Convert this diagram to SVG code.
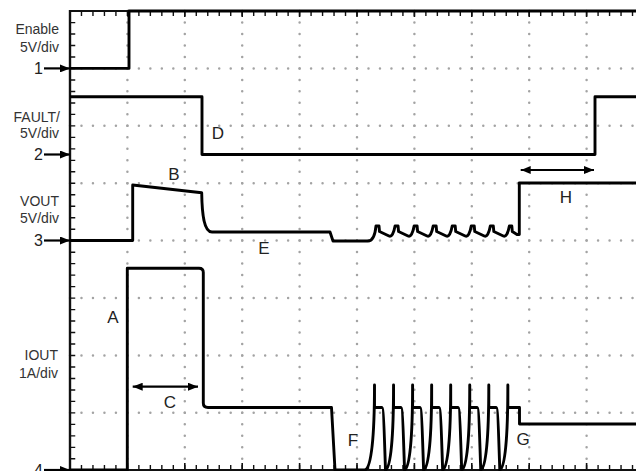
<svg xmlns="http://www.w3.org/2000/svg" width="636" height="471" viewBox="0 0 636 471">
<defs>
<style>
.dv{stroke:#a3a3a3;stroke-width:2.5;stroke-linecap:round;stroke-dasharray:0 11.48;fill:none}
.tk{stroke:#111;fill:none}
.tr{stroke:#000;stroke-width:2.9;fill:none;stroke-linejoin:round}
.lb{font-family:"Liberation Sans",Arial,sans-serif;font-size:14px;fill:#333;text-anchor:end}
.num{font-family:"Liberation Sans",Arial,sans-serif;font-size:16px;fill:#222;text-anchor:end}
.let{font-family:"Liberation Sans",Arial,sans-serif;font-size:17px;fill:#222;text-anchor:middle}
.ar{stroke:#000;stroke-width:2.2;fill:none}
</style>
<marker id="ah" viewBox="0 0 10 8" refX="10" refY="4" markerWidth="10" markerHeight="8" markerUnits="userSpaceOnUse" orient="auto-start-reverse">
<path d="M0,0 L10,4 L0,8 z" fill="#000"/>
</marker>
<clipPath id="topclip"><rect x="0" y="11" width="636" height="6"/></clipPath>
<clipPath id="botclip"><rect x="0" y="463" width="636" height="8"/></clipPath>
</defs>
<rect width="636" height="471" fill="#fff"/>
<g id="grid">
<line class="dv" x1="127.4" y1="11" x2="127.4" y2="470"/>
<line class="dv" x1="184.8" y1="11" x2="184.8" y2="470"/>
<line class="dv" x1="242.2" y1="11" x2="242.2" y2="470"/>
<line class="dv" x1="299.6" y1="11" x2="299.6" y2="470"/>
<line class="dv" x1="357" y1="11" x2="357" y2="470"/>
<line class="dv" x1="414.4" y1="11" x2="414.4" y2="470"/>
<line class="dv" x1="471.8" y1="11" x2="471.8" y2="470"/>
<line class="dv" x1="529.2" y1="11" x2="529.2" y2="470"/>
<line class="dv" x1="586.6" y1="11" x2="586.6" y2="470"/>
<line class="dv" x1="70" y1="68.4" x2="640" y2="68.4"/>
<line class="dv" x1="70" y1="125.8" x2="640" y2="125.8"/>
<line class="dv" x1="70" y1="183.2" x2="640" y2="183.2"/>
<line class="dv" x1="70" y1="240.6" x2="640" y2="240.6"/>
<line class="dv" x1="70" y1="298" x2="640" y2="298"/>
<line class="dv" x1="70" y1="355.4" x2="640" y2="355.4"/>
<line class="dv" x1="70" y1="412.8" x2="640" y2="412.8"/>
</g>
<g id="axes">
<line class="tk" x1="70" y1="10" x2="70" y2="471" stroke-width="2.4"/>
<line class="tk" x1="69" y1="11" x2="636" y2="11" stroke-width="2"/>
<line class="tk" x1="69" y1="470" x2="636" y2="470" stroke-width="2"/>
<line class="tk" x1="72.5" y1="10.4" x2="72.5" y2="470" stroke-width="5.5" stroke-dasharray="1.4 10.08"/>
<line class="tk" x1="70" y1="13.5" x2="636" y2="13.5" stroke-width="5" stroke-dasharray="1.4 10.08" stroke-dashoffset="0.7"/>
<line class="tk" x1="127.4" y1="11" x2="636" y2="11" stroke-width="12" stroke-dasharray="1.6 55.8" stroke-dashoffset="0.8" clip-path="url(#topclip)"/>
<line class="tk" x1="70" y1="467.5" x2="636" y2="467.5" stroke-width="5" stroke-dasharray="1.4 10.08" stroke-dashoffset="0.7"/>
<line class="tk" x1="127.4" y1="470" x2="636" y2="470" stroke-width="14" stroke-dasharray="1.6 55.8" stroke-dashoffset="0.8" clip-path="url(#botclip)"/>
</g>
<g id="ch1-enable">
<path class="tr" d="M70,68.4 L129,68.4 L129,11 L636,11" stroke-width="3.2"/>
<text class="lb" x="59" y="33.5">Enable</text>
<text class="lb" x="59" y="51.5">5V/div</text>
<text class="num" x="43" y="74">1</text>
<line class="ar" x1="44" y1="68.4" x2="70" y2="68.4" marker-end="url(#ah)"/>
</g>
<g id="ch2-fault">
<path class="tr" d="M70,96.7 L202,96.7 L202,154.5 L595,154.5 L595,96.7 L636,96.7"/>
<text class="lb" x="60" y="121.7">FAULT/</text>
<text class="lb" x="59" y="138">5V/div</text>
<text class="num" x="43" y="160.1">2</text>
<line class="ar" x1="44" y1="154.5" x2="70" y2="154.5" marker-end="url(#ah)"/>
</g>
<g id="ch3-vout">
<path class="tr" d="M70,240.5 L132.7,240.5 L132.7,185 L201.7,192.7 C202,214 204,232 212,232 L330,232 L333,241 L368,241 C372,241 375,236 376,226 L379,226 L379.5,231.5 L389,236 Q393,237.5 395.05,226 L398.05,226 L398.55,231.5 L408.05,236 Q412.05,237.5 414.1,226 L417.1,226 L417.6,231.5 L427.1,236 Q431.1,237.5 433.15,226 L436.15,226 L436.65,231.5 L446.15,236 Q450.15,237.5 452.2,226 L455.2,226 L455.7,231.5 L465.2,236 Q469.2,237.5 471.25,226 L474.25,226 L474.75,231.5 L484.25,236 Q488.25,237.5 490.3,226 L493.3,226 L493.8,231.5 L503.3,236 Q507.3,237.5 509.35,226 L511.8,226 L512.3,231.5 L517,234.5 L519.3,234.5 L519.3,183 L636,183"/>
<text class="lb" x="59" y="205.7">VOUT</text>
<text class="lb" x="59" y="223">5V/div</text>
<text class="num" x="43" y="246.1">3</text>
<line class="ar" x1="44" y1="240.5" x2="70" y2="240.5" marker-end="url(#ah)"/>
</g>
<g id="ch4-iout">
<path class="tr" d="M70,470 L127.3,470 L127.3,268.3 L199,268.3 Q203.3,268.3 203.3,272.5 L203.3,403 Q203.3,407.5 208,407.5 L331.5,407.5 L335,470 L365,470 C371,468 374.5,440 374.5,385 L374.5,407.5 L382,407.5 C383.5,407.5 384.5,440 385.5,470 C390.5,468 393.55,440 393.55,385 L393.55,407.5 L401.05,407.5 C402.55,407.5 403.55,440 404.55,470 C409.55,468 412.6,440 412.6,385 L412.6,407.5 L420.1,407.5 C421.6,407.5 422.6,440 423.6,470 C428.6,468 431.65,440 431.65,385 L431.65,407.5 L439.15,407.5 C440.65,407.5 441.65,440 442.65,470 C447.65,468 450.7,440 450.7,385 L450.7,407.5 L458.2,407.5 C459.7,407.5 460.7,440 461.7,470 C466.7,468 469.75,440 469.75,385 L469.75,407.5 L477.25,407.5 C478.75,407.5 479.75,440 480.75,470 C485.75,468 488.8,440 488.8,385 L488.8,407.5 L496.3,407.5 C497.8,407.5 498.8,440 499.8,470 C504.8,468 507.85,440 507.85,385 L507.85,407.5 L519.5,407.5 L519.5,424 L636,424"/>
<text class="lb" x="58" y="360">IOUT</text>
<text class="lb" x="58" y="377.7">1A/div</text>
<text class="num" x="43" y="475.6">4</text>
<line class="ar" x1="44" y1="470" x2="70" y2="470" marker-end="url(#ah)"/>
</g>
<g id="annotations">
<text class="let" x="113" y="323">A</text>
<text class="let" x="174" y="180">B</text>
<text class="let" x="170" y="408">C</text>
<text class="let" x="218" y="139">D</text>
<text class="let" x="264" y="254">E</text>
<text class="let" x="353" y="446">F</text>
<text class="let" x="523" y="445">G</text>
<text class="let" x="566" y="203">H</text>
<line class="ar" x1="132.7" y1="386.7" x2="198" y2="386.7" marker-start="url(#ah)" marker-end="url(#ah)"/>
<line class="ar" x1="520.7" y1="170" x2="594" y2="170" marker-start="url(#ah)" marker-end="url(#ah)"/>
</g>
</svg>
